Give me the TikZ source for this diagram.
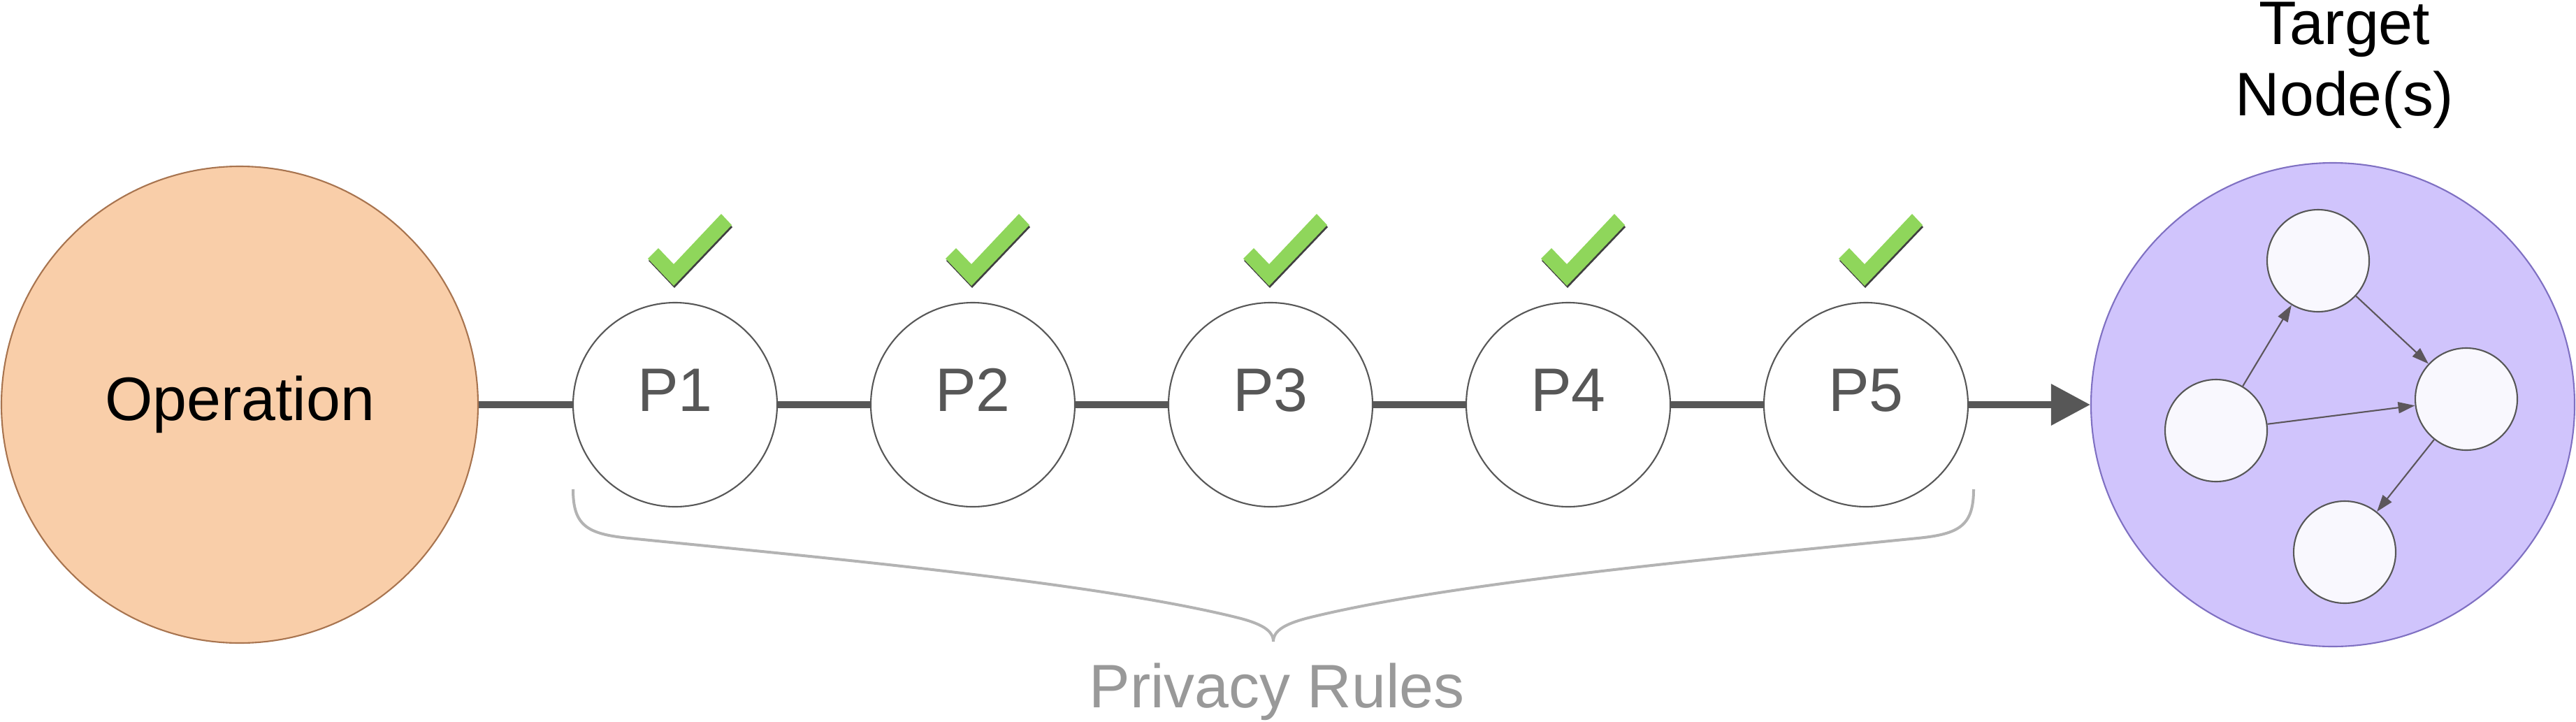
\documentclass[tikz,border=0pt]{standalone}
\usepackage{fontspec}
\setmainfont{Liberation Sans}
\usetikzlibrary{arrows.meta}

\definecolor{opfill}{HTML}{F9CEA9}
\definecolor{opline}{HTML}{A8744F}
\definecolor{tgtfill}{HTML}{D0C4FC}
\definecolor{tgtline}{HTML}{7F70C2}
\definecolor{linegray}{HTML}{575757}
\definecolor{arrowgray}{HTML}{5C565B}
\definecolor{innerfill}{HTML}{F9F8FE}
\definecolor{tickgreen}{HTML}{8FD65B}
\definecolor{tickshadow}{HTML}{404040}
\definecolor{bracegray}{HTML}{B3B3B3}
\definecolor{rulegray}{HTML}{999999}

\begin{document}
\begin{tikzpicture}[font=\fontsize{25pt}{29pt}\selectfont]

        \useasboundingbox (0,0) rectangle (36.86,10.32);

        \node[circle,draw=opline,fill=opfill,line width=0.6pt,minimum size=6.82cm,inner sep=0pt] (op) at (3.43,4.53) {Operation};
        \node[circle,draw=tgtline,fill=tgtfill,line width=0.6pt,minimum size=6.92cm,inner sep=0pt] (tgt) at (33.38,4.53) {};
        \node[align=center,anchor=north,inner sep=0pt] (tgtlabel) at (33.55,10.30) {Target\\Node(s)};

        \begin{scope}[every node/.style={circle,draw=linegray,fill=white,line width=0.6pt,minimum size=2.92cm,inner sep=0pt,text=linegray,text height=0.72em,text depth=0.2em}]
          \node (p1) at (9.66,4.53)  {P1};
          \node (p2) at (13.92,4.53) {P2};
          \node (p3) at (18.18,4.53) {P3};
          \node (p4) at (22.44,4.53) {P4};
          \node (p5) at (26.70,4.53) {P5};
        \end{scope}

        \begin{scope}[every node/.style={circle,draw=linegray,fill=innerfill,line width=0.6pt,minimum size=1.46cm,inner sep=0pt}]
          \node (t1) at (33.17,6.59) {};
          \node (t2) at (31.71,4.16) {};
          \node (t3) at (35.29,4.61) {};
          \node (t4) at (33.55,2.42) {};
        \end{scope}

        \begin{scope}[every edge/.style={draw=linegray,line width=0.1cm}]
          \path (op) edge (p1);
          \path (p1) edge (p2);
          \path (p2) edge (p3);
          \path (p3) edge (p4);
          \path (p4) edge (p5);
          \path (p5) edge[-{Triangle[length=0.56cm,width=0.57cm]}] (tgt);
        \end{scope}

        \begin{scope}[every edge/.style={draw=arrowgray,line width=0.6pt,-{Triangle[length=0.24cm,width=0.16cm]}}]
          \path (t2) edge (t1);
          \path (t1) edge (t3);
          \path (t2) edge (t3);
          \path (t3) edge (t4);
        \end{scope}

        % check marks above the rules
        \foreach \p in {p1,p2,p3,p4,p5} {
          \begin{scope}[shift={(\p.center)}]
            \fill[tickshadow] (-0.38,2.06) -- (-0.23,2.21) -- (-0.01,1.98) -- (0.67,2.70) -- (0.82,2.54) -- (-0.01,1.67) -- cycle;
            \fill[tickgreen] (-0.39,2.09) -- (-0.24,2.24) -- (-0.02,2.01) -- (0.66,2.73) -- (0.81,2.57) -- (-0.02,1.70) -- cycle;
          \end{scope}
        }

        \draw[bracegray,line width=0.04cm] (8.20,3.32) .. controls (8.20,2.80) and (8.40,2.68) .. (9.00,2.62)
          .. controls (12.00,2.32) and (15.68,1.98) .. (17.68,1.49)
          .. controls (18.05,1.40) and (18.22,1.30) .. (18.22,1.14)
          .. controls (18.22,1.30) and (18.39,1.40) .. (18.76,1.49)
          .. controls (20.76,1.98) and (24.44,2.32) .. (27.44,2.62)
          .. controls (28.04,2.68) and (28.24,2.80) .. (28.24,3.32);

        \node[text=rulegray,anchor=base,inner sep=0pt] (rules) at (18.27,0.20) {Privacy Rules};

      \end{tikzpicture}
\end{document}
